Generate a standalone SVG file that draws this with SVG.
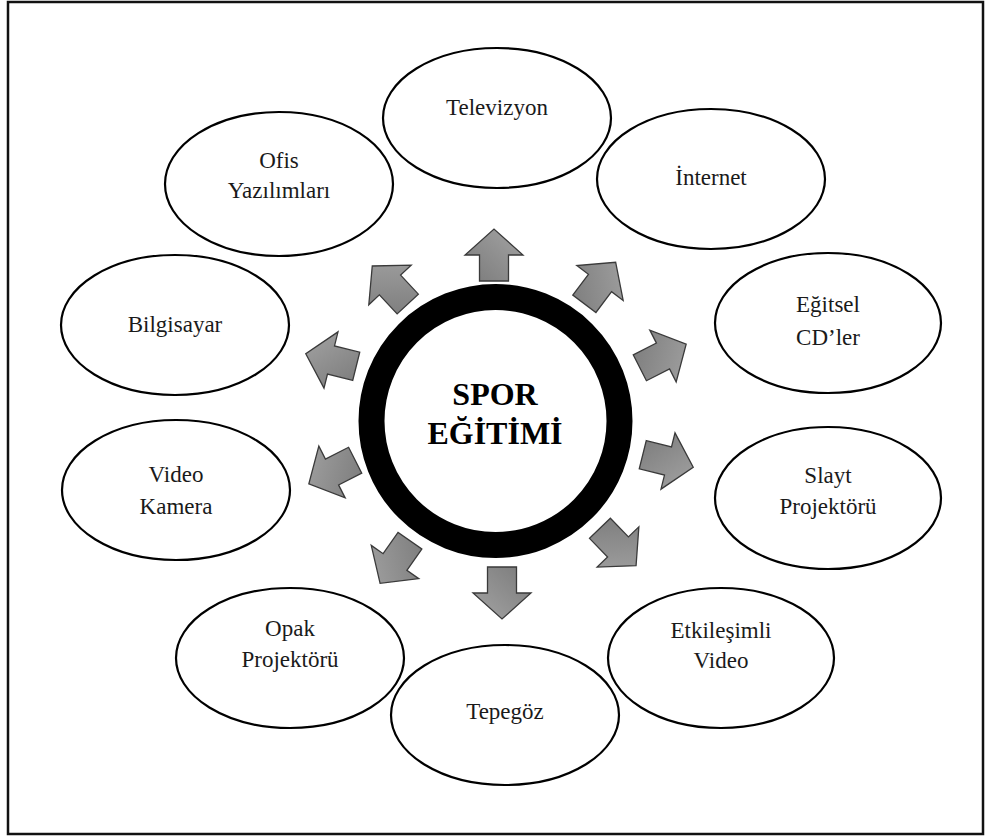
<svg xmlns="http://www.w3.org/2000/svg" width="985" height="836" viewBox="0 0 985 836">
<style>
.node ellipse{fill:#fff;stroke:#000;stroke-width:2.2}
.lbl{font-family:"Liberation Serif","Times New Roman",serif;font-size:23px;fill:#1a1a1a;text-anchor:middle}
.title{font-family:"Liberation Serif","Times New Roman",serif;font-size:32px;font-weight:bold;fill:#000;text-anchor:middle}
.arr{fill:url(#g);stroke:#3a3a3a;stroke-width:1.3;stroke-linejoin:miter}
</style>
<defs>
<linearGradient id="g" x1="0" y1="0" x2="1" y2="1">
<stop offset="0" stop-color="#7a7a7a"/>
<stop offset="1" stop-color="#a4a4a4"/>
</linearGradient>
<path id="a" d="M-26,-14.5 L0,-14.5 L0,-29 L26,0 L0,29 L0,14.5 L-26,14.5 Z"/>
</defs>
<rect x="8" y="2" width="975" height="832" fill="#fff" stroke="#111" stroke-width="2.5"/>
<g id="center">
<circle cx="495.5" cy="421" r="124" fill="#fff" stroke="#000" stroke-width="26"/>
<text class="title" x="495" y="405">SPOR</text>
<text class="title" x="495" y="444">EĞİTİMİ</text>
</g>
<g id="connectors">
<use href="#a" class="arr" transform="translate(494,255) rotate(-90)"/>
<use href="#a" class="arr" transform="translate(600,283) rotate(-53)"/>
<use href="#a" class="arr" transform="translate(663,356) rotate(-27)"/>
<use href="#a" class="arr" transform="translate(668,461) rotate(14)"/>
<use href="#a" class="arr" transform="translate(618,547) rotate(46)"/>
<use href="#a" class="arr" transform="translate(502,593) rotate(90)"/>
<use href="#a" class="arr" transform="translate(395,562) rotate(125)"/>
<use href="#a" class="arr" transform="translate(332,472) rotate(153)"/>
<use href="#a" class="arr" transform="translate(331,360) rotate(-166)"/>
<use href="#a" class="arr" transform="translate(390,285) rotate(-133)"/>
</g>
<g id="televizyon" class="node"><ellipse cx="497" cy="118" rx="114" ry="70"/><text class="lbl" x="497" y="115">Televizyon</text></g>
<g id="internet" class="node"><ellipse cx="711" cy="179" rx="114" ry="70"/><text class="lbl" x="711" y="185">İnternet</text></g>
<g id="egitsel" class="node"><ellipse cx="828" cy="323" rx="113" ry="70"/><text class="lbl" x="828" y="312">Eğitsel</text><text class="lbl" x="828" y="345">CD’ler</text></g>
<g id="slayt" class="node"><ellipse cx="828" cy="498" rx="113" ry="71"/><text class="lbl" x="828" y="483">Slayt</text><text class="lbl" x="828" y="514">Projektörü</text></g>
<g id="etkilesimli" class="node"><ellipse cx="721" cy="658" rx="113" ry="70"/><text class="lbl" x="721" y="638">Etkileşimli</text><text class="lbl" x="721" y="668">Video</text></g>
<g id="tepegoz" class="node"><ellipse cx="505" cy="715" rx="114" ry="70"/><text class="lbl" x="505" y="719">Tepegöz</text></g>
<g id="opak" class="node"><ellipse cx="290" cy="658" rx="114" ry="70"/><text class="lbl" x="290" y="636">Opak</text><text class="lbl" x="290" y="667">Projektörü</text></g>
<g id="videokamera" class="node"><ellipse cx="176" cy="490" rx="114" ry="70"/><text class="lbl" x="176" y="482">Video</text><text class="lbl" x="176" y="514">Kamera</text></g>
<g id="bilgisayar" class="node"><ellipse cx="175" cy="325" rx="114" ry="70"/><text class="lbl" x="175" y="332">Bilgisayar</text></g>
<g id="ofis" class="node"><ellipse cx="279" cy="184" rx="114" ry="72"/><text class="lbl" x="279" y="168">Ofis</text><text class="lbl" x="279" y="198">Yazılımları</text></g>
</svg>
